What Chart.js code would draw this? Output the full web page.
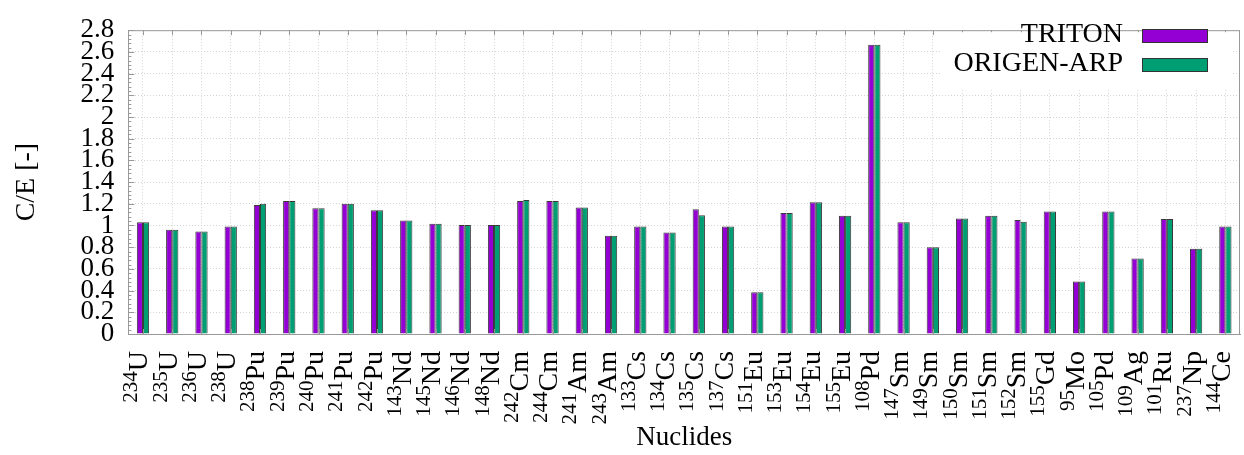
<!DOCTYPE html>
<html>
<head>
<meta charset="utf-8">
<title>C/E TRITON vs ORIGEN-ARP</title>
<script src="https://cdn.jsdelivr.net/npm/chart.js@4/dist/chart.umd.min.js"></script>
<style>
    body { margin: 0; background: #fff; }
    #wrap { width: 1244px; height: 455px; }
</style>
</head>
<body>
<div id="wrap"><canvas id="myChart" width="1244" height="455"></canvas></div>
<script>
// nuclides: mass number + element
const massNumbers = ["234", "235", "236", "238", "238", "239", "240", "241", "242", "143", "145", "146", "148",
    "242", "244", "241", "243", "133", "134", "135", "137", "151", "153", "154", "155", "108",
    "147", "149", "150", "151", "152", "155", "95", "105", "109", "101", "237", "144"];
const elements = ["U", "U", "U", "U", "Pu", "Pu", "Pu", "Pu", "Pu", "Nd", "Nd", "Nd", "Nd",
    "Cm", "Cm", "Am", "Am", "Cs", "Cs", "Cs", "Cs", "Eu", "Eu", "Eu", "Eu", "Pd",
    "Sm", "Sm", "Sm", "Sm", "Sm", "Gd", "Mo", "Pd", "Ag", "Ru", "Np", "Ce"];

// C/E values
const triton = [1.03, 0.96, 0.945, 0.99, 1.19, 1.225, 1.16, 1.20, 1.14, 1.045, 1.015, 1.005, 1.005,
    1.225, 1.225, 1.165, 0.905, 0.99, 0.935, 1.15, 0.99, 0.385, 1.115, 1.215, 1.09, 2.665,
    1.03, 0.80, 1.065, 1.09, 1.05, 1.13, 0.485, 1.13, 0.695, 1.06, 0.785, 0.99];
const origenArp = [1.03, 0.96, 0.945, 0.99, 1.20, 1.225, 1.16, 1.20, 1.14, 1.045, 1.015, 1.005, 1.005,
    1.235, 1.225, 1.165, 0.905, 0.99, 0.935, 1.095, 0.99, 0.385, 1.115, 1.215, 1.09, 2.665,
    1.03, 0.80, 1.065, 1.09, 1.035, 1.13, 0.485, 1.13, 0.695, 1.06, 0.785, 0.99];

const yMin = 0;
const yMax = 2.8;
const yStep = 0.2;

const labels = massNumbers.map((m, i) => m + elements[i]);

const serif = "'Liberation Serif', 'DejaVu Serif', serif";
const frameColor = "#999";

// tick marks, frame, rotated labels with superscripts, legend
const decorations = {
    id: "decorations",
    afterDraw(chart) {
        const ctx = chart.ctx;
        const area = chart.chartArea;
        const x = chart.scales.x;
        const y = chart.scales.y;

        ctx.save();
        ctx.strokeStyle = frameColor;
        ctx.lineWidth = 1;

        // top and right side of the frame
        ctx.beginPath();
        ctx.moveTo(area.left, area.top + 0.5);
        ctx.lineTo(area.right, area.top + 0.5);
        ctx.moveTo(area.right - 0.5, area.top);
        ctx.lineTo(area.right - 0.5, area.bottom);
        ctx.stroke();

        // x ticks, top and bottom, pointing in
        ctx.beginPath();
        for (let i = 0; i < labels.length; i++) {
            const px = Math.round(x.getPixelForTick(i)) + 0.5;
            ctx.moveTo(px, area.top);
            ctx.lineTo(px, area.top + 5);
            ctx.moveTo(px, area.bottom);
            ctx.lineTo(px, area.bottom - 5);
        }
        ctx.stroke();

        // y major and minor ticks on the left
        ctx.beginPath();
        const minorStep = yStep / 5;
        for (let k = 0; k <= Math.round((yMax - yMin) / minorStep); k++) {
            const v = yMin + k * minorStep;
            const py = Math.round(y.getPixelForValue(v)) + 0.5;
            const len = k % 5 === 0 ? 6 : 3;
            ctx.moveTo(area.left, py);
            ctx.lineTo(area.left + len, py);
        }
        ctx.stroke();

        // rotated nuclide labels
        ctx.fillStyle = "#000";
        ctx.textAlign = "right";
        ctx.textBaseline = "alphabetic";
        for (let i = 0; i < labels.length; i++) {
            const px = x.getPixelForTick(i);
            ctx.save();
            ctx.translate(px + 4.5, area.bottom + 17);
            ctx.rotate(-Math.PI / 2);
            ctx.font = "28px " + serif;
            ctx.fillText(elements[i], 0, 0);
            const w = ctx.measureText(elements[i]).width;
            ctx.font = "21px " + serif;
            ctx.fillText(massNumbers[i], -w, -10);
            ctx.restore();
        }

        // x axis title
        ctx.font = "27px " + serif;
        ctx.textAlign = "center";
        ctx.textBaseline = "middle";
        ctx.fillText("Nuclides", (area.left + area.right) / 2, 438);

        // legend inside top right corner
        ctx.fillStyle = "#fff";
        ctx.fillRect(940, area.top + 2, 292, 58);
        ctx.font = "28px " + serif;
        ctx.textAlign = "right";
        ctx.textBaseline = "alphabetic";
        chart.data.datasets.forEach((ds, i) => {
            const rowY = 42 + i * 29;
            ctx.fillStyle = "#000";
            ctx.fillText(ds.label, 1123, rowY);
            ctx.fillStyle = ds.backgroundColor;
            ctx.fillRect(1142, rowY - 13, 66, 14);
            ctx.strokeStyle = "#333";
            ctx.strokeRect(1142.5, rowY - 12.5, 65, 13);
        });

        ctx.restore();
    }
};

const ctx = document.getElementById("myChart").getContext("2d");

const myChart = new Chart(ctx, {
    type: "bar",
    data: {
        labels: labels,
        datasets: [
            {
                label: "TRITON",
                data: triton,
                backgroundColor: "#9400d3",
                borderColor: "#3a3a3a",
                borderWidth: 1
            },
            {
                label: "ORIGEN-ARP",
                data: origenArp,
                backgroundColor: "#009e73",
                borderColor: "#3a3a3a",
                borderWidth: 1
            }
        ]
    },
    options: {
        responsive: false,
        animation: false,
        devicePixelRatio: 1,
        layout: {
            padding: { top: 17, right: 4, bottom: 121, left: 0 }
        },
        datasets: {
            bar: {
                categoryPercentage: 0.42,
                barPercentage: 1.0
            }
        },
        plugins: {
            legend: { display: false },
            tooltip: { enabled: false }
        },
        scales: {
            x: {
                offset: true,
                ticks: { display: false },
                grid: {
                    offset: false,
                    drawTicks: false,
                    color: "#d4d4d4",
                    lineWidth: 1
                },
                border: { display: true, color: frameColor, width: 1, dash: [1, 2] }
            },
            y: {
                min: yMin,
                max: yMax,
                ticks: {
                    stepSize: yStep,
                    autoSkip: false,
                    padding: 14,
                    color: "#000",
                    font: { family: serif, size: 27 },
                    // 1 and 2 without the trailing .0
                    callback: value => String(parseFloat(value.toFixed(2)))
                },
                grid: {
                    drawTicks: false,
                    color: "#d4d4d4",
                    lineWidth: 1
                },
                border: { display: true, color: frameColor, width: 1, dash: [1, 2] },
                title: {
                    display: true,
                    text: "C/E [-]",
                    color: "#000",
                    font: { family: serif, size: 28 },
                    padding: { top: 10, bottom: 23 }
                }
            }
        }
    },
    plugins: [decorations]
});
</script>
</body>
</html>
